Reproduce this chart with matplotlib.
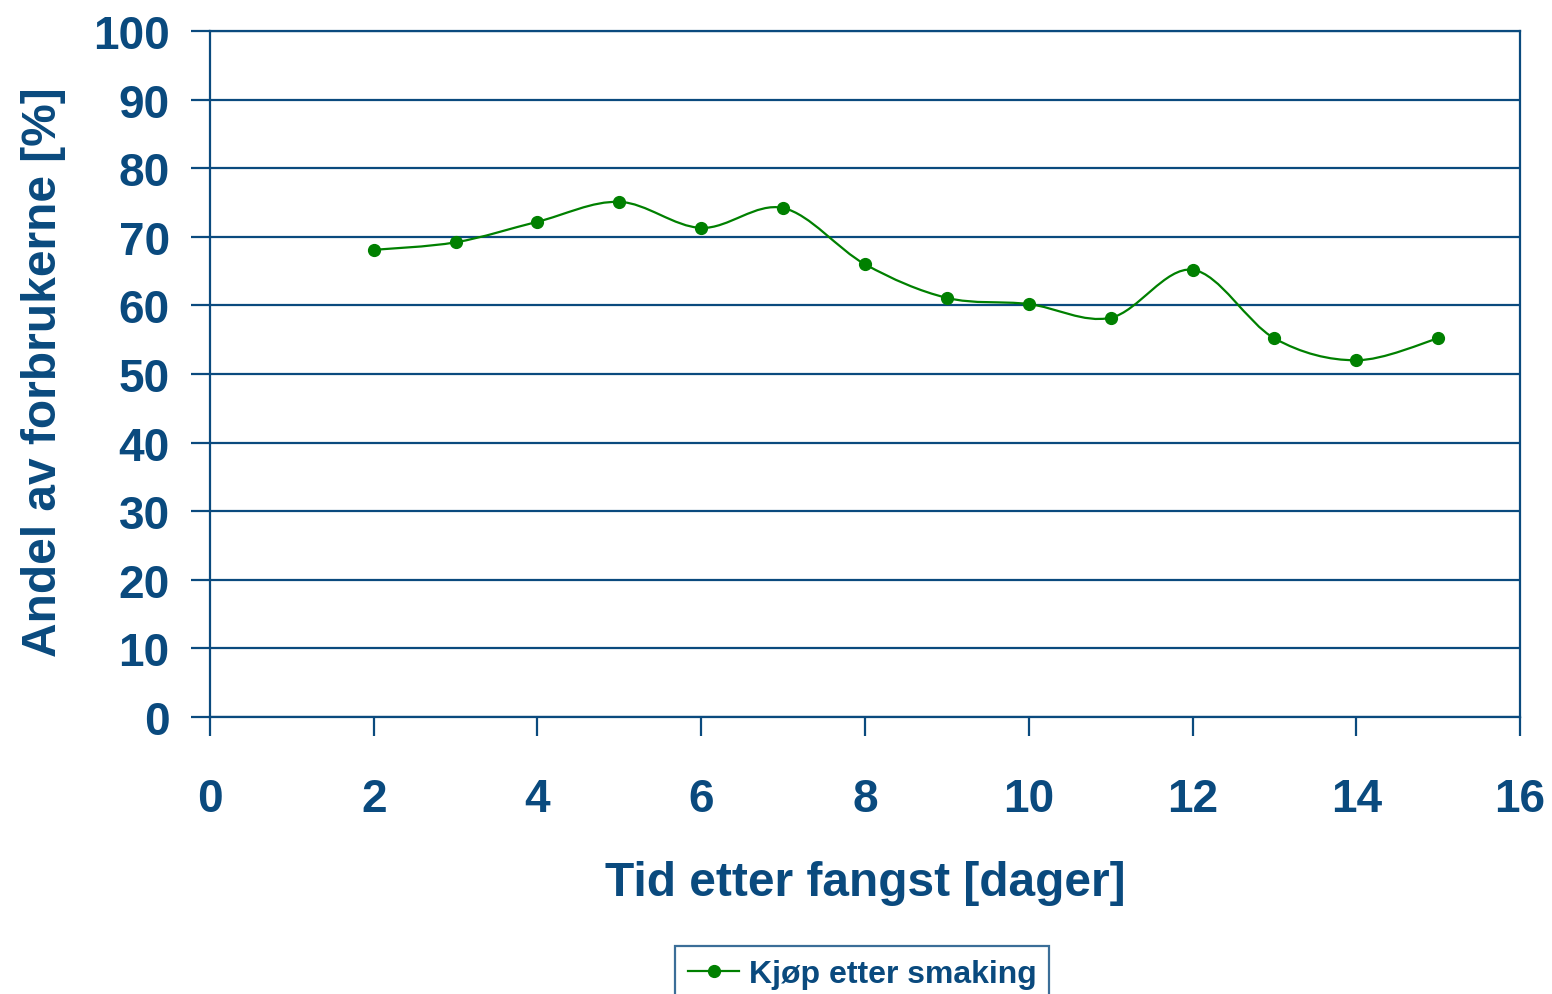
import matplotlib
matplotlib.use("Agg")
import matplotlib.pyplot as plt
from matplotlib.path import Path
from matplotlib.patches import PathPatch

# Datos
dias = [2, 3, 4, 5, 6, 7, 8, 9, 10, 11, 12, 13, 14, 15]
andel = [68.1, 69.2, 72.2, 75.1, 71.3, 74.2, 66.0, 61.1, 60.2, 58.2, 65.2, 55.2, 52.0, 55.2]
x_ticks = [0, 2, 4, 6, 8, 10, 12, 14, 16]
y_ticks = [0, 10, 20, 30, 40, 50, 60, 70, 80, 90, 100]

azul = "#0a4a7e"
verde = "#008000"

plt.rcParams['font.family'] = ['Liberation Sans', 'DejaVu Sans']
plt.rcParams['font.weight'] = 'bold'

fig = plt.figure(figsize=(15.52, 9.95), dpi=100)
ax = fig.add_axes([0.1353, 0.2784, 0.8441, 0.6894])


# Linea suavizada (estilo Excel): curvas de Bezier entre los puntos
def trazo_suave(xs, ys):
    verts = [(xs[0], ys[0])]
    codes = [Path.MOVETO]
    n = len(xs)
    for i in range(n - 1):
        x0, y0 = (xs[i - 1], ys[i - 1]) if i > 0 else (xs[i], ys[i])
        x3, y3 = (xs[i + 2], ys[i + 2]) if i + 2 < n else (xs[i + 1], ys[i + 1])
        c1 = (xs[i] + (xs[i + 1] - x0) / 6, ys[i] + (ys[i + 1] - y0) / 6)
        c2 = (xs[i + 1] - (x3 - xs[i]) / 6, ys[i + 1] - (y3 - ys[i]) / 6)
        verts += [c1, c2, (xs[i + 1], ys[i + 1])]
        codes += [Path.CURVE4] * 3
    return Path(verts, codes)


ax.add_patch(PathPatch(trazo_suave(dias, andel), facecolor='none',
                       edgecolor=verde, lw=1.6, zorder=3))
ax.plot(dias, andel, 'o', color=verde, ms=8.5, zorder=4)
# linea solo para la leyenda
linea_ley, = ax.plot([], [], '-o', color=verde, lw=1.6, ms=8.5)

ax.set_xlim(0, 16)
ax.set_ylim(0, 100)
ax.set_xticks(x_ticks)
ax.set_yticks(y_ticks)
ax.grid(axis='y', color=azul, lw=1.6)
ax.set_axisbelow(True)
for lado in ax.spines.values():
    lado.set_color(azul)
    lado.set_linewidth(1.6)

ax.tick_params(axis='both', colors=azul, labelsize=33, length=14, width=1.6)
ax.tick_params(axis='x', pad=29)
ax.tick_params(axis='y', pad=15)
for t in ax.get_xticklabels() + ax.get_yticklabels():
    t.set_fontweight('bold')

ax.set_xlabel("Tid etter fangst [dager]", fontsize=34.5, color=azul,
              fontweight='bold')
ax.set_ylabel("Andel av forbrukerne [%]", fontsize=34.5, color=azul,
              fontweight='bold')
ax.xaxis.set_label_coords(0.5, -0.209)
ax.yaxis.set_label_coords(-0.1097, 0.504)

ley = fig.legend([linea_ley], ["Kjøp etter smaking"], loc='upper center',
                 bbox_to_anchor=(0.5557, 0.048), fontsize=23, frameon=True,
                 fancybox=False, borderpad=0.4, handlelength=1.6,
                 handletextpad=0.3, labelcolor=azul, borderaxespad=0)
ley.get_frame().set_edgecolor(azul)
ley.get_frame().set_linewidth(1.6)
for t in ley.get_texts():
    t.set_fontweight('bold')

fig.savefig("out.png", dpi=100)
